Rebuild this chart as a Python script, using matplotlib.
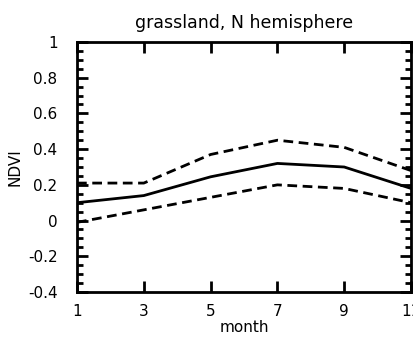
import matplotlib
matplotlib.use("Agg")
import matplotlib.pyplot as plt
import matplotlib.ticker as ticker

month = [1, 3, 5, 7, 9, 11]
ndvi_mean = [0.10, 0.14, 0.245, 0.32, 0.30, 0.18]
ndvi_upper = [0.21, 0.21, 0.37, 0.45, 0.41, 0.28]
ndvi_lower = [-0.01, 0.06, 0.13, 0.20, 0.18, 0.10]

plt.rcParams['font.family'] = ['DejaVu Sans']

fig = plt.figure(figsize=(4.14, 3.39), dpi=100)
ax = fig.add_axes([77 / 414, 47 / 339, 334 / 414, 250 / 339])

ax.plot(month, ndvi_mean, color='black', lw=2)
ax.plot(month, ndvi_upper, color='black', lw=2, ls=(0, (3.5, 2)))
ax.plot(month, ndvi_lower, color='black', lw=2, ls=(0, (3.5, 2)))

ax.set_xlim(1, 11)
ax.set_ylim(-0.4, 1)
ax.set_xticks([1, 3, 5, 7, 9, 11])
ax.set_yticks([-0.4, -0.2, 0, 0.2, 0.4, 0.6, 0.8, 1])
ax.set_yticklabels(['-0.4', '-0.2', '0', '0.2', '0.4', '0.6', '0.8', '1'])
ax.yaxis.set_minor_locator(ticker.MultipleLocator(0.05))

ax.tick_params(which='both', direction='in', top=True, right=True,
               width=2, labelsize=11)
ax.tick_params(axis='y', pad=14)
ax.tick_params(axis='x', pad=9)
ax.tick_params(which='major', length=8)
ax.tick_params(which='minor', length=4)
for sp in ax.spines.values():
    sp.set_linewidth(2)

ax.set_xlabel('month', fontsize=11, labelpad=0)
ax.set_ylabel('NDVI', fontsize=11, labelpad=4)
ax.set_title('grassland, N hemisphere', fontsize=12.5, pad=10)

fig.savefig('out.png', dpi=100)
